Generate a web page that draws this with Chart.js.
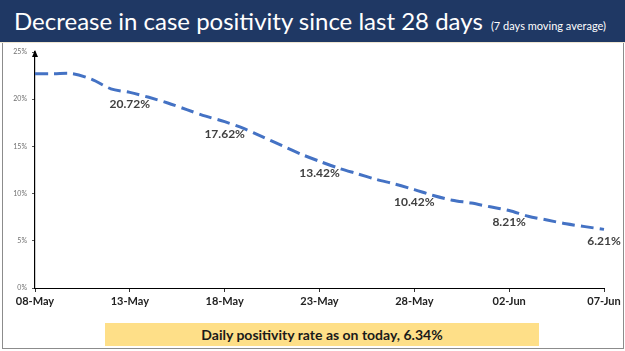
<!DOCTYPE html>
<html>
<head>
<meta charset="utf-8">
<script src="https://cdn.jsdelivr.net/npm/chart.js@4"></script>
<style>
  html, body { margin: 0; padding: 0; background: #fff; }
  #page { position: relative; width: 625px; height: 351px; overflow: hidden; font-family: Lato, "Open Sans", sans-serif; }
  #titlebar { position: absolute; left: 0; top: 0; width: 625px; height: 42px; background: #1f3864; border-bottom: 1px solid #efe6d2; }
  #title { position: absolute; left: 14px; top: 6px; color: #fff; font-size: 24px; white-space: nowrap; }
  #title small { font-size: 11px; margin-left: 2px; }
  #panel { position: absolute; left: 2px; top: 43px; width: 620px; height: 305px; border: 1px solid #8c8c8c; border-top: none; }
  #note { position: absolute; left: 105px; top: 323px; width: 434px; height: 23px; background: #fedf88; text-align: center; line-height: 23px; font-size: 14px; font-weight: bold; color: #1a1a1a; }
  #chart { position: absolute; left: 0; top: 0; }
</style>
</head>
<body>
<div id="page">
  <div id="titlebar"><div id="title">Decrease in case positivity since last 28 days <small>(7 days moving average)</small></div></div>
  <div id="panel"></div>
  <div id="note">Daily positivity rate as on today, 6.34%</div>
  <canvas id="chart" width="625" height="351"></canvas>
</div>
<script>
const dates = [
  "08-May", "09-May", "10-May", "11-May", "12-May", "13-May", "14-May", "15-May",
  "16-May", "17-May", "18-May", "19-May", "20-May", "21-May", "22-May", "23-May",
  "24-May", "25-May", "26-May", "27-May", "28-May", "29-May", "30-May", "31-May",
  "01-Jun", "02-Jun", "03-Jun", "04-Jun", "05-Jun", "06-Jun", "07-Jun"
];
// 7 day moving average of positivity (%)
const positivity = [
  22.7, 22.7, 22.7, 22.1, 21.1, 20.72, 20.2, 19.6,
  18.9, 18.2, 17.62, 16.9, 16.0, 15.1, 14.2, 13.42,
  12.7, 12.1, 11.5, 11.0, 10.42, 9.8, 9.3, 9.0,
  8.6, 8.21, 7.6, 7.2, 6.8, 6.5, 6.21
];
const yTicks = [0, 5, 10, 15, 20, 25];

// labels under every 5th point
const pointLabels = {
  id: 'pointLabels',
  afterDatasetsDraw(chart) {
    const ctx = chart.ctx;
    const meta = chart.getDatasetMeta(0);
    ctx.save();
    ctx.font = 'bold 12px Lato, "Open Sans", sans-serif';
    ctx.fillStyle = '#404040';
    ctx.textAlign = 'center';
    ctx.textBaseline = 'middle';
    meta.data.forEach((pt, i) => {
      if (i > 0 && i % 5 === 0) {
        ctx.fillText(positivity[i].toFixed(2) + '%', pt.x, pt.y + 12);
      }
    });
    ctx.restore();
  }
};

// arrow head on top of the y axis
const axisArrow = {
  id: 'axisArrow',
  afterDraw(chart) {
    const ctx = chart.ctx;
    const x = chart.chartArea.left;
    const y = chart.chartArea.top;
    ctx.save();
    ctx.fillStyle = '#000';
    ctx.beginPath();
    ctx.moveTo(x, y - 2);
    ctx.lineTo(x - 3, y + 5);
    ctx.lineTo(x + 3, y + 5);
    ctx.closePath();
    ctx.fill();
    ctx.restore();
  }
};

new Chart(document.getElementById('chart'), {
  type: 'line',
  data: {
    labels: dates,
    datasets: [{
      data: positivity,
      borderColor: '#4472c4',
      borderWidth: 3,
      borderDash: [13, 6],
      pointRadius: 0,
      tension: 0.3,
      fill: false
    }]
  },
  options: {
    responsive: false,
    animation: false,
    layout: { padding: { left: 0, top: 52, right: 21, bottom: 41 } },
    plugins: { legend: { display: false }, tooltip: { enabled: false } },
    scales: {
      x: {
        afterFit(scale) { scale.height = 22; },
        grid: {
          drawOnChartArea: false,
          tickLength: 4,
          tickColor: (c) => (c.index % 5 === 0 ? '#333' : 'rgba(0,0,0,0)')
        },
        border: { color: '#000', width: 1 },
        ticks: {
          autoSkip: false,
          maxRotation: 0,
          padding: 3,
          color: '#222',
          font: { family: 'Lato, "Open Sans", sans-serif', size: 11, weight: 'bold' },
          callback(v, i) { return i % 5 === 0 ? dates[i] : ''; }
        }
      },
      y: {
        min: 0,
        max: 25,
        afterFit(scale) { scale.width = 35; },
        afterBuildTicks(scale) { scale.ticks = yTicks.map(v => ({ value: v })); },
        grid: { drawOnChartArea: false, tickLength: 3, tickColor: '#555' },
        border: { color: '#000', width: 1.2 },
        ticks: {
          padding: 5,
          color: '#707070',
          font: { family: 'Lato, "Open Sans", sans-serif', size: 7 },
          callback(v) { return v + '%'; }
        }
      }
    }
  },
  plugins: [pointLabels, axisArrow]
});
</script>
</body>
</html>
